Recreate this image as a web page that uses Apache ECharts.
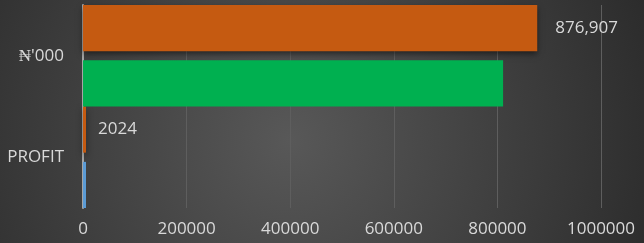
<!DOCTYPE html>
<html>
<head>
<meta charset="utf-8">
<script src="https://cdn.jsdelivr.net/npm/echarts@6/dist/echarts.min.js"></script>
<style>
  html, body { margin: 0; padding: 0; }
  #chart { width: 644px; height: 243px; }
</style>
</head>
<body>
<div id="chart"></div>
<script>
var categories = ["₦'000", 'PROFIT'];
// first bar in each band (orange)
var upperValues = [876907, 2024];
// second bar in each band (green / blue)
var lowerValues = [811000, 1500];
var lowerColors = ['#00B050', '#5B9BD5'];
var xTicks = [0, 200000, 400000, 600000, 800000, 1000000];

var chart = echarts.init(document.getElementById('chart'));

var textColor = '#d9d9d9';
var font = 'Open Sans';
var labelOffsets = [13, 7];

var option = {
  backgroundColor: {
    type: 'radial', x: 290, y: 140, r: 380, global: true,
    colorStops: [
      { offset: 0, color: '#585858' },
      { offset: 1, color: '#2c2c2c' }
    ]
  },
  animation: false,
  grid: { left: 83, right: 43, top: 5, bottom: 35 },
  xAxis: {
    type: 'value',
    min: xTicks[0],
    max: xTicks[xTicks.length - 1],
    interval: 200000,
    axisLine: { show: false },
    axisTick: { show: false },
    axisLabel: {
      color: textColor, fontSize: 17, fontFamily: font, margin: 13,
      formatter: function (v) { return String(v); }
    },
    splitLine: { lineStyle: { color: '#5e5e5e', width: 1 } }
  },
  yAxis: {
    type: 'category',
    inverse: true,
    data: categories,
    z: 1,
    axisLine: { lineStyle: { color: '#a6a6a6', width: 2 } },
    axisTick: { show: false },
    axisLabel: { color: textColor, fontSize: 17, fontFamily: font, margin: 19 }
  },
  series: [{
    type: 'bar',
    data: upperValues.map(function (v, i) {
      return { value: v, label: { offset: [labelOffsets[i], 0] } };
    }),
    barGap: '20%',
    barCategoryGap: '0%',
    barMinHeight: 3,
    z: 3,
    itemStyle: {
      color: '#C55A11',
      shadowColor: 'rgba(0,0,0,0.5)', shadowBlur: 6, shadowOffsetY: 3
    },
    label: {
      show: true, position: 'right',
      color: textColor, fontSize: 17, fontFamily: font,
      formatter: function (p) { return p.dataIndex === 0 ? p.value.toLocaleString('en-US') : String(p.value); }
    }
  }, {
    type: 'bar',
    data: lowerValues.map(function (v, i) { return { value: v, itemStyle: { color: lowerColors[i] } }; }),
    barGap: '20%',
    barCategoryGap: '0%',
    barMinHeight: 3,
    z: 3
  }]
};
chart.setOption(option);
</script>
</body>
</html>
